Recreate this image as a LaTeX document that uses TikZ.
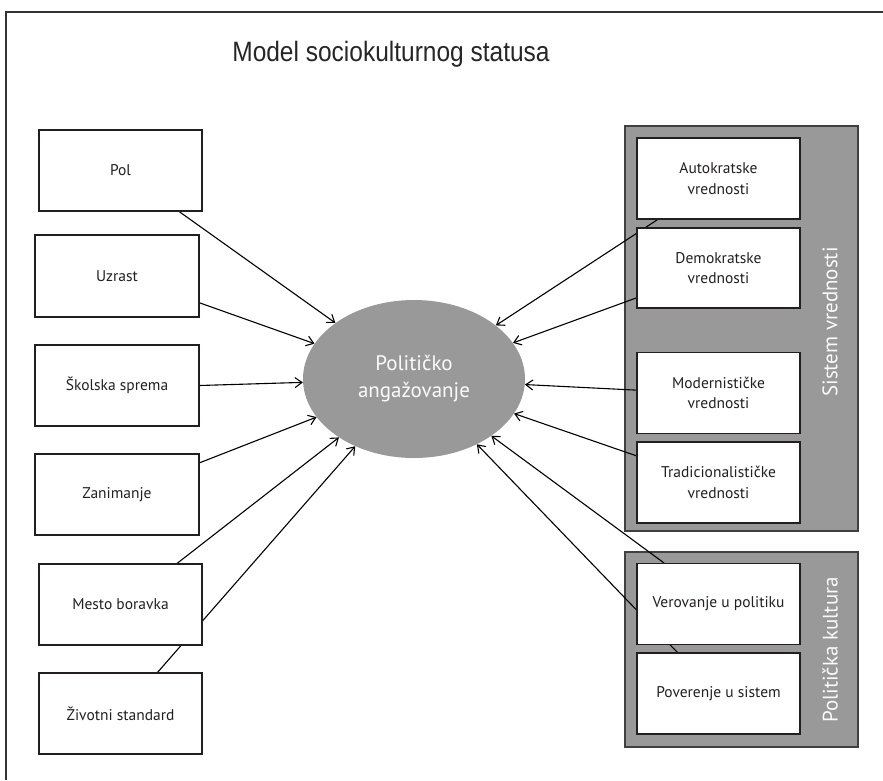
\documentclass[tikz,border=0pt]{standalone}
\usepackage{fontspec}
\setmainfont{PT Sans}
\newfontfamily\titlefont{Liberation Sans}
\usetikzlibrary{arrows.meta,shapes.geometric}
\pgfdeclarelayer{bg}
\pgfdeclarelayer{back}
\pgfdeclarelayer{mid}
\pgfsetlayers{bg,back,mid,main}
\definecolor{grayfill}{HTML}{999999}
\definecolor{txt}{HTML}{231F20}
\tikzset{
  box/.style={draw=txt, line width=1.2pt, fill=white, minimum width=163pt, minimum height=81pt, inner sep=0pt, font=\fontsize{15.5}{20.5}\selectfont, text=txt, align=center},
  group/.style={draw=black!75, line width=1.5pt, fill=grayfill, inner sep=0pt},
  grouplabel/.style={rotate=90, text=white!95!grayfill, font=\fontsize{21}{24}\selectfont},
  arr/.style={draw=black, line width=1.1pt, -{Straight Barb[length=7pt,width=10pt]}}
}
\begin{document}
\begin{tikzpicture}[x=1pt,y=-1pt]
\begin{pgfonlayer}{bg}
\fill[white] (0,0) rectangle (883,780);
\end{pgfonlayer}
\useasboundingbox (0,0) rectangle (883,780);
\draw[line width=1.2pt, draw=black!80] (6,780) -- (6,12) -- (883,12);
\node[font=\titlefont\fontsize{28}{32}\selectfont, text=black!85, xscale=0.875, anchor=base] (title) at (391,61.5) {Model sociokulturnog statusa};

% groups
\begin{pgfonlayer}{back}
\node[group, minimum width=233pt, minimum height=405pt] (sv) at (741.5,328.5) {};
\node[group, minimum width=233pt, minimum height=195pt] (pk) at (741.5,649.5) {};
\end{pgfonlayer}
\node[grouplabel] (svl) at (830,322) {Sistem vrednosti};
\node[grouplabel] (pkl) at (830,650) {Politička kultura};

% central ellipse
\node[ellipse, fill=grayfill, minimum width=222pt, minimum height=158pt, inner sep=0pt, text=white!95!grayfill, align=center, font=\fontsize{21}{27}\selectfont] (pa) at (414,379) {Političko\\angažovanje};

% left boxes
\node[box] (pol) at (120.5,170.5) {Pol};
\node[box, minimum width=164pt, minimum height=82pt] (uz) at (117,276) {Uzrast};
\node[box, minimum width=164pt] (sk) at (117,385.5) {Školska sprema};
\node[box, minimum width=164pt] (zan) at (117,494.5) {Zanimanje};
\node[box] (mes) at (120.5,604.5) {Mesto boravka};
\node[box] (ziv) at (120.5,713.5) {Životni standard};

% right boxes
\node[box] (aut) at (718.5,178.5) {Autokratske\\vrednosti};
\node[box, minimum height=80pt] (dem) at (718.5,268) {Demokratske\\vrednosti};
\node[box] (mod) at (718.5,393) {Modernističke\\vrednosti};
\node[box] (tra) at (718.5,482.5) {Tradicionalističke\\vrednosti};
\node[box] (ver) at (718.5,604) {Verovanje u politiku};
\node[box] (pov) at (718.5,693.5) {Poverenje u sistem};

% arrows
\begin{pgfonlayer}{mid}
\draw[arr] (pol.-35.2) -- (pa);
\draw[arr] (uz.-18.9) -- (pa);
\draw[arr] (sk.east) -- (pa);
\draw[arr] (zan.21.6) -- (pa);
\draw[arr] (mes.36.6) -- (pa);
\draw[arr] (ziv.48) -- (pa);
\draw[arr] (aut.-146.6) -- (pa);
\draw[arr] (dem.200.2) -- (pa);
\draw[arr] (mod.178) -- (pa);
\draw[arr] (tra.162) -- (pa);
\draw[arr] (ver.143.5) -- (pa);
\draw[arr] (pov.135) -- (pa);
\end{pgfonlayer}
\end{tikzpicture}
\end{document}
